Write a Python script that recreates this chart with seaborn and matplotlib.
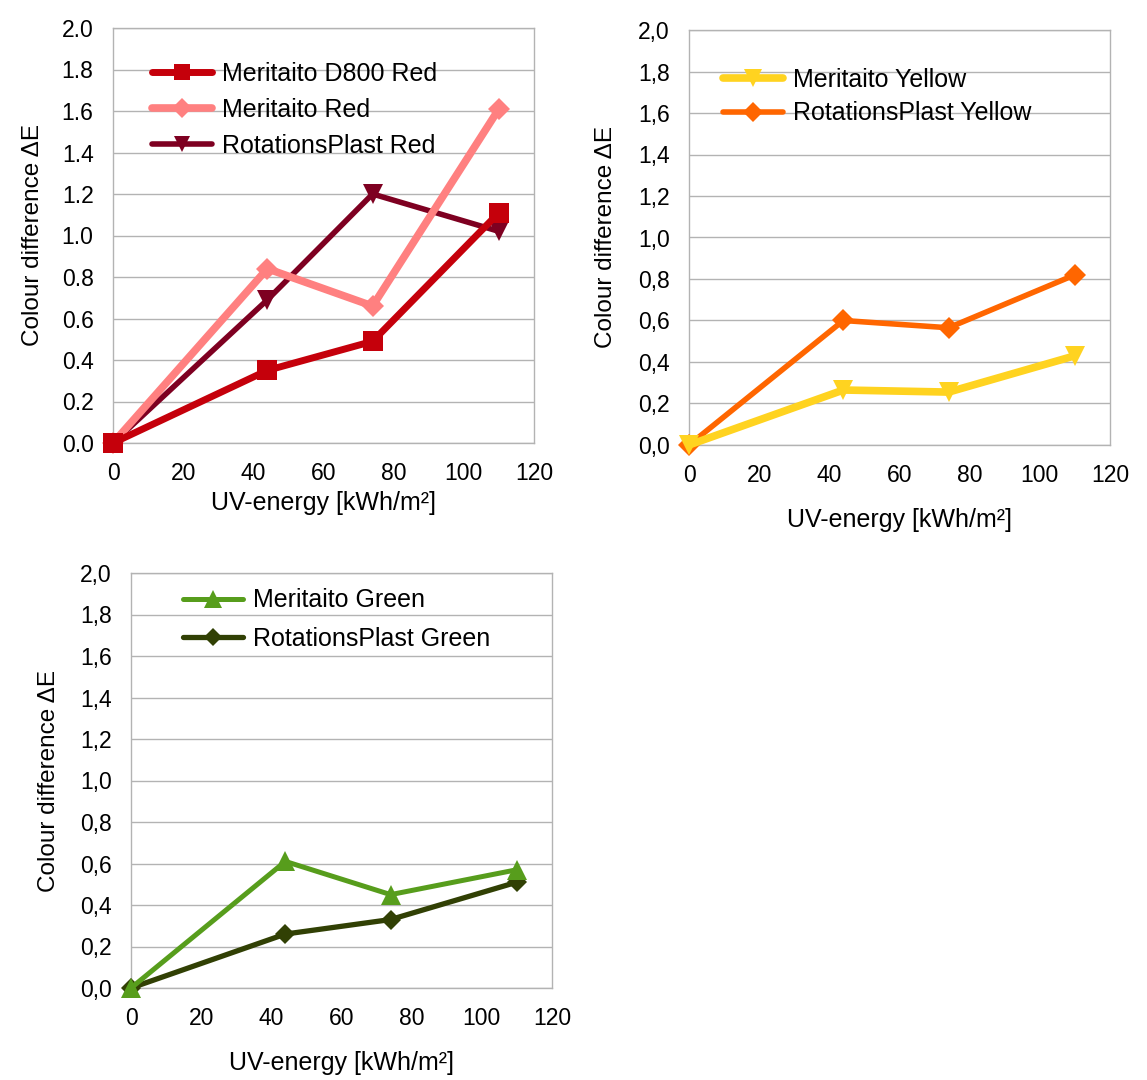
import matplotlib
matplotlib.use("Agg")
import matplotlib.pyplot as plt
import matplotlib.ticker as mticker
import seaborn as sns
import pandas as pd

# ---- data ----
uv_energy = [0, 44, 74, 110]

red_names = ["Meritaito D800 Red", "Meritaito Red", "RotationsPlast Red"]
meritaito_d800_red = [0.0, 0.35, 0.49, 1.11]
meritaito_red = [0.0, 0.84, 0.66, 1.61]
rotationsplast_red = [0.0, 0.69, 1.20, 1.02]

yellow_names = ["Meritaito Yellow", "RotationsPlast Yellow"]
meritaito_yellow = [0.0, 0.265, 0.255, 0.43]
rotationsplast_yellow = [0.0, 0.60, 0.565, 0.82]

green_names = ["Meritaito Green", "RotationsPlast Green"]
meritaito_green = [0.0, 0.61, 0.45, 0.57]
rotationsplast_green = [0.0, 0.26, 0.33, 0.51]

y_ticks = [0.0, 0.2, 0.4, 0.6, 0.8, 1.0, 1.2, 1.4, 1.6, 1.8, 2.0]
x_ticks = [0, 20, 40, 60, 80, 100, 120]
x_label = "UV-energy [kWh/m²]"
y_label = "Colour difference ΔE"

sns.set_style("white")
plt.rcParams["font.family"] = ["Liberation Sans", "DejaVu Sans"]
plt.rcParams["text.color"] = "black"
plt.rcParams["axes.labelcolor"] = "black"

GRID = "#b3b3b3"

fig = plt.figure(figsize=(11.47, 10.8), dpi=100)
W, H = 1147, 1080


def make_ax(left, top, right, bottom):
    return fig.add_axes([left / W, 1 - bottom / H, (right - left) / W, (bottom - top) / H])


def style_ax(ax, decimal_comma, xlabelpad, ylabelpad):
    ax.set_xlim(0, 120)
    ax.set_ylim(0, 2.0)
    ax.set_xticks(x_ticks)
    ax.set_yticks(y_ticks)
    if decimal_comma:
        ax.yaxis.set_major_formatter(mticker.FuncFormatter(lambda v, p: f"{v:.1f}".replace(".", ",")))
    else:
        ax.yaxis.set_major_formatter(mticker.FuncFormatter(lambda v, p: f"{v:.1f}"))
    ax.grid(False)
    ax.grid(True, axis="y", color=GRID, linewidth=1.0)
    ax.set_axisbelow(True)
    for s in ax.spines.values():
        s.set_color(GRID)
        s.set_linewidth(1.0)
        s.set_visible(True)
    ax.tick_params(axis="both", direction="out", length=8, width=1.0, color=GRID,
                   labelsize=16.5, labelcolor="black", pad=6)
    ax.set_xlabel(x_label, fontsize=18, labelpad=xlabelpad, color="black")
    ax.set_ylabel(y_label, fontsize=17.5, labelpad=ylabelpad, color="black")


def draw(ax, series, names, colors, markers, lws, mss, legend_xy, labelspacing):
    n = len(series)
    for i, (vals, name, c, m, lw, ms) in enumerate(zip(series, names, colors, markers, lws, mss)):
        df = pd.DataFrame({"x": uv_energy, "y": vals})
        sns.lineplot(data=df, x="x", y="y", ax=ax, color=c, marker=m, linewidth=lw,
                     markersize=ms, markeredgewidth=0, label=name, zorder=10 + (n - i),
                     clip_on=False)
    leg = ax.legend(loc="upper left", bbox_to_anchor=legend_xy, frameon=False, fontsize=18,
                    handlelength=2.4, handletextpad=0.4, borderpad=0, borderaxespad=0,
                    labelspacing=labelspacing)
    for h in leg.legend_handles:
        h.set_markersize(h.get_markersize() * 0.85)


# top-left: red
ax1 = make_ax(113, 28, 534, 443)
draw(ax1, [meritaito_d800_red, meritaito_red, rotationsplast_red], red_names,
     ["#c5000b", "#ff8080", "#7e0021"], ["s", "D", "v"], [5.0, 5.5, 4.0], [14, 11.5, 14],
     (0.0926, 0.919), 0.49)
style_ax(ax1, False, 4, 13)

# top-right: yellow
ax2 = make_ax(689, 30, 1110, 445)
draw(ax2, [meritaito_yellow, rotationsplast_yellow], yellow_names,
     ["#ffd320", "#ff6600"], ["v", "D"], [5.5, 4.0], [15, 11.5],
     (0.081, 0.909), 0.38)
style_ax(ax2, True, 15, 15)

# bottom-left: green
ax3 = make_ax(131, 573, 552, 988)
draw(ax3, [meritaito_green, rotationsplast_green], green_names,
     ["#579d1c", "#314004"], ["^", "D"], [3.6, 3.8], [15, 10.5],
     (0.1235, 0.963), 0.57)
style_ax(ax3, True, 15, 14)

fig.savefig("out.png", dpi=100)
